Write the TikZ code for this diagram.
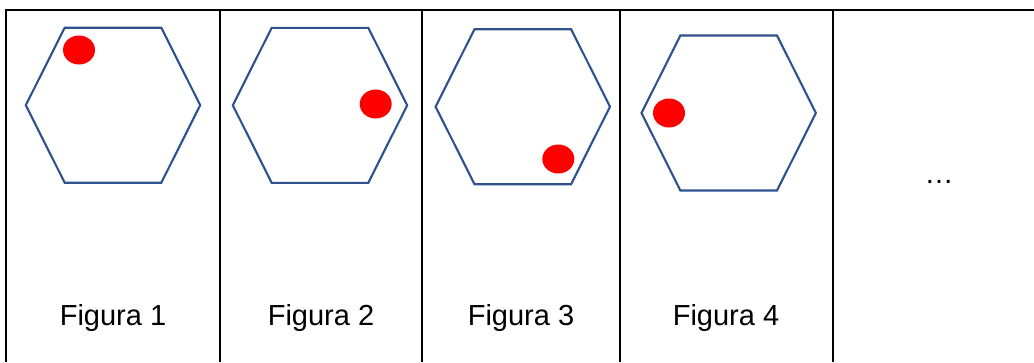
\documentclass[tikz,border=0pt]{standalone}
\usepackage{fontspec}
\setmainfont{Liberation Sans}
\definecolor{hexblue}{RGB}{47,82,143}

\begin{document}
\begin{tikzpicture}[x=1pt,y=-1pt,
 grid/.style={line width=2pt,black},
 hexa/.style={line width=2.1pt,draw=hexblue,line join=miter},
 dot/.style={fill=red},
 lab/.style={font=\fontsize{29}{34}\selectfont,anchor=base}]
\useasboundingbox (0,0) rectangle (1034,362);
% table lines
\draw[grid] (1034,10)--(6,10)--(6,362);
\foreach \x in {220,421.7,620,832.7} \draw[grid] (\x,10)--(\x,362);
% one cell per figure: hexagon centre, dot centre, label x
\foreach \cx/\cy/\dx/\dy/\lx [count=\i] in {113/105.2/79/50/113,320/105.3/375.7/104/321,522.8/106.7/558.3/159/521,728.7/113/669/113/726}{
 \draw[hexa] (\cx-87.2,\cy)--(\cx-48.3,\cy-77.5)--(\cx+48.3,\cy-77.5)--(\cx+87.2,\cy)
   --(\cx+48.3,\cy+77.5)--(\cx-48.3,\cy+77.5)--cycle;
 \fill[dot] (\dx,\dy) ellipse[x radius=16,y radius=14.5];
 \node[lab] (fig\i) at (\lx,325) {Figura \i};
}
\node[lab] (etc) at (939,183.5) {…};
\end{tikzpicture}
\end{document}
